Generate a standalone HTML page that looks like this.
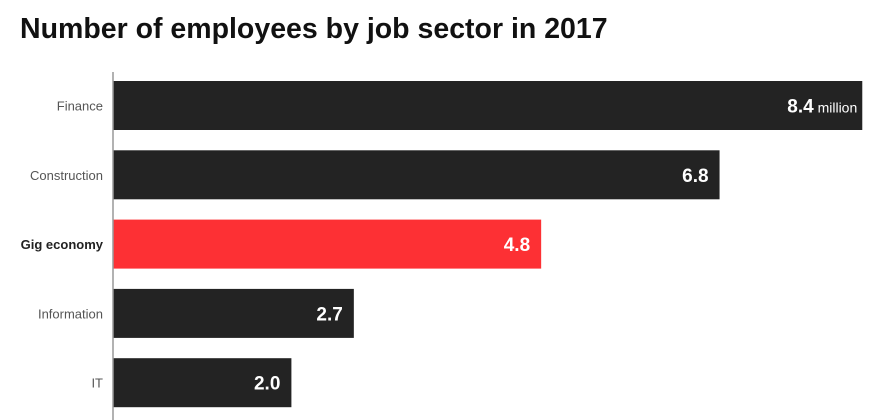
<!DOCTYPE html>
<html><head><meta charset="utf-8"><style>
body{margin:0;background:#fff;width:877px;height:420px;overflow:hidden;font-family:"Liberation Sans",sans-serif}
h1{position:absolute;left:20px;top:13px;margin:0;font-size:28.5px;font-weight:bold;color:#111;letter-spacing:0px}
</style></head><body>
<h1>Number of employees by job sector in 2017</h1>
<svg id="c" width="877" height="420" style="position:absolute;left:0;top:0"></svg>
<script>
const categories=["Finance","Construction","Gig economy","Information","IT"];
const values=[8.4,6.8,4.8,2.7,2.0];
const valueLabels=["8.4","6.8","4.8","2.7","2.0"];
const highlight=[false,false,true,false,false];
const svg=document.getElementById('c');
const NS='http://www.w3.org/2000/svg';
const x0=113,pxPerUnit=89.2;
const x=v=>x0+v*pxPerUnit;
const y=i=>81+i*69.3;
const bh=49;
function el(t,a){const e=document.createElementNS(NS,t);for(const k in a)e.setAttribute(k,a[k]);svg.appendChild(e);return e;}
categories.forEach((c,i)=>{
  const r=el('rect',{x:x0,y:y(i),width:x(values[i])-x0,height:bh,fill:highlight[i]?'#fd3034':'#232323'});
  
  
  const l=el('text',{x:103,y:y(i)+bh/2+5,'text-anchor':'end','font-size':13,fill:highlight[i]?'#222':'#555','font-weight':highlight[i]?'bold':'normal'});
  l.textContent=c;
  
  
  const v=el('text',{x:x(values[i])-(i===0?5:11),y:y(i)+bh/2+7,'text-anchor':'end',fill:'#fff','font-size':19,'font-weight':'bold'});
  v.textContent=valueLabels[i];
  if(i===0){const s=document.createElementNS(NS,'tspan');s.setAttribute('font-size',14);s.setAttribute('font-weight','normal');s.textContent=' million';v.appendChild(s);}
  
  
});
const ax=el('line',{x1:x0,x2:x0,y1:72,y2:420,stroke:'#999','stroke-width':1.5});


</script>
</body></html>
